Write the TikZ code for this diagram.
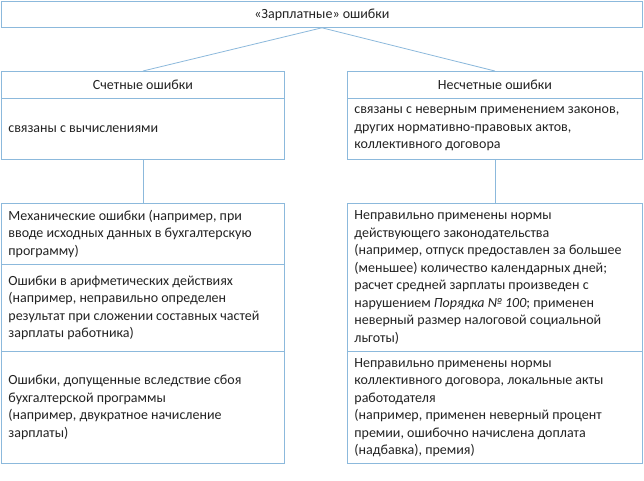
\documentclass[tikz,border=0pt]{standalone}
\usepackage{fontspec}
\setmainfont{Carlito}
\definecolor{bd}{RGB}{140,185,220}
\definecolor{tx}{RGB}{35,35,35}
\begin{document}
\begin{tikzpicture}[x=1pt,y=-1pt,
  font=\fontsize{14}{17.5}\selectfont, text=tx,
  cell/.style={draw=bd, line width=0.8pt, fill=white, inner xsep=7pt, inner ysep=0pt,
               align=flush left, anchor=north west},
  head/.style={draw=bd, line width=0.8pt, fill=white, inner sep=0pt, anchor=north west},
  conn/.style={draw=bd, line width=0.8pt}]
\useasboundingbox[fill=white] (0,0) rectangle (644,480);
% top
\node[head, minimum width=641pt, minimum height=26pt] (top) at (1,1) {«Зарплатные» ошибки};
% left column
\node[head, minimum width=283pt, minimum height=27pt] (lh) at (1,71) {Счетные ошибки};
\node[cell, minimum width=283pt, text width=269pt, minimum height=61pt] (lc) at (1,98) {связаны с вычислениями};
\node[cell, minimum width=283pt, text width=269pt, minimum height=61pt] (l1) at (1,203) {Механические ошибки (например, при\\вводе исходных данных в бухгалтерскую\\программу)};
\node[cell, minimum width=283pt, text width=269pt, minimum height=87pt] (l2) at (1,264) {Ошибки в арифметических действиях\\(например, неправильно определен\\результат при сложении составных частей\\зарплаты работника)};
\node[cell, minimum width=283pt, text width=269pt, minimum height=112pt] (l3) at (1,351) {Ошибки, допущенные вследствие сбоя\\бухгалтерской программы\\(например, двукратное начисление\\зарплаты)};
% right column
\node[head, minimum width=295pt, minimum height=27pt] (rh) at (347,71) {Несчетные ошибки};
\node[cell, minimum width=295pt, text width=281pt, minimum height=61pt] (rc) at (347,98) {связаны с неверным применением законов,\\других нормативно-правовых актов,\\коллективного договора};
\node[cell, minimum width=295pt, text width=281pt, minimum height=148pt] (r1) at (347,203) {Неправильно применены нормы\\действующего законодательства\\(например, отпуск предоставлен за большее\\(меньшее) количество календарных дней;\\расчет средней зарплаты произведен с\\нарушением \textit{Порядка №~100}; применен\\неверный размер налоговой социальной\\льготы)};
\node[cell, minimum width=295pt, text width=281pt, minimum height=112pt] (r2) at (347,351) {Неправильно применены нормы\\коллективного договора, локальные акты\\работодателя\\(например, применен неверный процент\\премии, ошибочно начислена доплата\\(надбавка), премия)};
% connectors
\draw[conn] (top.south) -- (lh.north);
\draw[conn] (top.south) -- (rh.north);
\draw[conn] (lc.south) -- (l1.north);
\draw[conn] (rc.south) -- (r1.north);
\end{tikzpicture}
\end{document}
